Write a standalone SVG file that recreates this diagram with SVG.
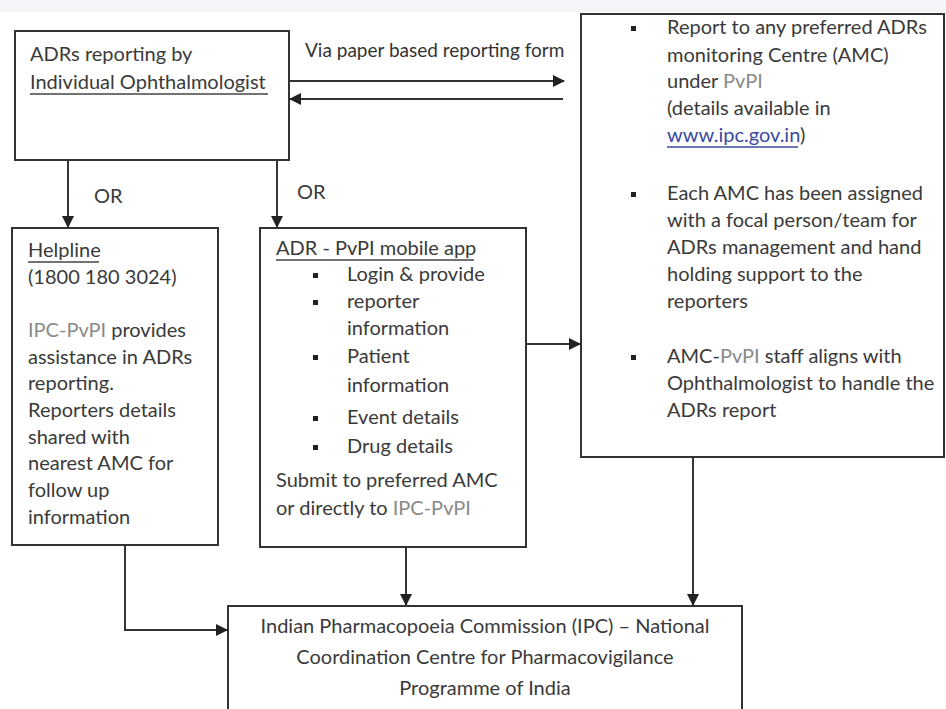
<svg xmlns="http://www.w3.org/2000/svg" width="946" height="709" viewBox="0 0 946 709">
<defs>
<style>
.box{fill:#fff;stroke:#333;stroke-width:2}
.t{font-family:Lato,"Liberation Sans",sans-serif;font-size:20px;fill:#3a3a3a}
.c{text-anchor:middle}
.l{fill:#8a8a8a}
.ln{stroke:#333;stroke-width:2;fill:none}
.u{stroke:#444;stroke-width:1.5}
.b{fill:#222}
</style>
<marker id="ah" markerWidth="12" markerHeight="12" refX="11" refY="6" orient="auto" markerUnits="userSpaceOnUse">
<path d="M0,0 L12,6 L0,12 Z" fill="#222"/>
</marker>
</defs>
<rect width="946" height="709" fill="#fff"/>
<rect width="946" height="12" fill="#f3f5f8"/>

<g id="node-reporter">
<rect class="box" x="15" y="31" width="274" height="129"/>
<text class="t" x="30" y="61">ADRs reporting by</text>
<text class="t" x="30" y="89">Individual Ophthalmologist</text>
<line class="u" x1="30" y1="94" x2="268" y2="94"/>
</g>

<g id="node-amc">
<rect class="box" x="581" y="14" width="363" height="443"/>
<rect class="b" x="631" y="26" width="5" height="5"/>
<text class="t" x="667" y="34">Report to any preferred ADRs</text>
<text class="t" x="667" y="62">monitoring Centre (AMC)</text>
<text class="t" x="667" y="88">under <tspan class="l">PvPI</tspan></text>
<text class="t" x="667" y="115">(details available in</text>
<text class="t" x="667" y="142"><tspan fill="#3a4aa0">www.ipc.gov.in</tspan>)</text>
<line x1="667" y1="147" x2="798" y2="147" stroke="#3a4aa0" stroke-width="1.5"/>
<rect class="b" x="631" y="192" width="5" height="5"/>
<text class="t" x="667" y="200">Each AMC has been assigned</text>
<text class="t" x="667" y="227">with a focal person/team  for</text>
<text class="t" x="667" y="254">ADRs management and hand</text>
<text class="t" x="667" y="281">holding support to the</text>
<text class="t" x="667" y="308">reporters</text>
<rect class="b" x="631" y="355" width="5" height="5"/>
<text class="t" x="667" y="363">AMC-<tspan class="l">PvPI</tspan> staff aligns with</text>
<text class="t" x="667" y="390">Ophthalmologist to handle the</text>
<text class="t" x="667" y="417">ADRs report</text>
</g>

<g id="node-helpline">
<rect class="box" x="12" y="228" width="206" height="317"/>
<text class="t" x="28" y="257">Helpline</text>
<line class="u" x1="28" y1="262" x2="99" y2="262"/>
<text class="t" x="28" y="284">(1800 180 3024)</text>
<text class="t" x="28" y="337"><tspan class="l">IPC-PvPI</tspan> provides</text>
<text class="t" x="28" y="364">assistance in ADRs</text>
<text class="t" x="28" y="390">reporting.</text>
<text class="t" x="28" y="417">Reporters details</text>
<text class="t" x="28" y="444">shared with</text>
<text class="t" x="28" y="470">nearest AMC for</text>
<text class="t" x="28" y="497">follow up</text>
<text class="t" x="28" y="524">information</text>
</g>

<g id="node-app">
<rect class="box" x="260" y="228" width="266" height="319"/>
<text class="t" x="276" y="255">ADR - PvPI mobile app</text>
<line class="u" x1="276" y1="260" x2="474" y2="260"/>
<rect class="b" x="313" y="273" width="5" height="5"/>
<text class="t" x="347" y="281">Login &amp; provide</text>
<rect class="b" x="313" y="300" width="5" height="5"/>
<text class="t" x="347" y="308">reporter</text>
<text class="t" x="347" y="335">information</text>
<rect class="b" x="313" y="355" width="5" height="5"/>
<text class="t" x="347" y="363">Patient</text>
<text class="t" x="347" y="392">information</text>
<rect class="b" x="313" y="416" width="5" height="5"/>
<text class="t" x="347" y="424">Event details</text>
<rect class="b" x="313" y="445" width="5" height="5"/>
<text class="t" x="347" y="453">Drug details</text>
<text class="t" x="276" y="487">Submit to preferred AMC</text>
<text class="t" x="276" y="515">or directly to <tspan class="l">IPC-PvPI</tspan></text>
</g>

<g id="node-ipc">
<rect class="box" x="228" y="606" width="514" height="120"/>
<text class="t c" x="485" y="633">Indian Pharmacopoeia Commission (IPC) – National</text>
<text class="t c" x="485" y="664">Coordination Centre for Pharmacovigilance</text>
<text class="t c" x="485" y="695">Programme of India</text>
</g>

<g id="connectors">
<line class="ln" x1="290" y1="81" x2="564" y2="81" marker-end="url(#ah)"/>
<line class="ln" x1="563" y1="99" x2="290" y2="99" marker-end="url(#ah)"/>
<text class="t" x="305" y="57" style="font-size:19px;fill:#333">Via paper based reporting form</text>
<line class="ln" x1="68" y1="160" x2="68" y2="227" marker-end="url(#ah)"/>
<line class="ln" x1="277" y1="160" x2="277" y2="227" marker-end="url(#ah)"/>
<text class="t" x="94" y="203">OR</text>
<text class="t" x="297" y="199">OR</text>
<line class="ln" x1="526" y1="344" x2="580" y2="344" marker-end="url(#ah)"/>
<line class="ln" x1="406" y1="547" x2="406" y2="605" marker-end="url(#ah)"/>
<line class="ln" x1="693" y1="457" x2="693" y2="605" marker-end="url(#ah)"/>
<polyline class="ln" points="125,545 125,630 227,630" marker-end="url(#ah)"/>
</g>
</svg>
